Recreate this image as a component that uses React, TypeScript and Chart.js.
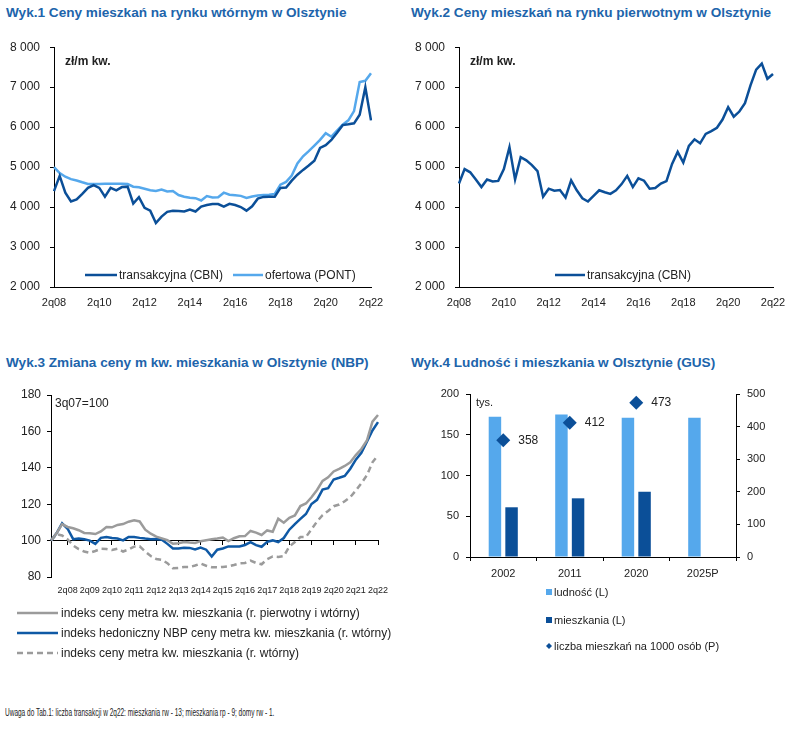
import React, { useEffect, useRef } from 'react';
import { Chart, registerables } from 'chart.js';

Chart.register(...registerables);

// ---------------- DATA ----------------
const QUARTERS_08_22 = '2q08 3q08 4q08 1q09 2q09 3q09 4q09 1q10 2q10 3q10 4q10 1q11 2q11 3q11 4q11 1q12 2q12 3q12 4q12 1q13 2q13 3q13 4q13 1q14 2q14 3q14 4q14 1q15 2q15 3q15 4q15 1q16 2q16 3q16 4q16 1q17 2q17 3q17 4q17 1q18 2q18 3q18 4q18 1q19 2q19 3q19 4q19 1q20 2q20 3q20 4q20 1q21 2q21 3q21 4q21 1q22 2q22'.split(' ');
const QUARTERS_07_22 = '3q07 4q07 1q08 2q08 3q08 4q08 1q09 2q09 3q09 4q09 1q10 2q10 3q10 4q10 1q11 2q11 3q11 4q11 1q12 2q12 3q12 4q12 1q13 2q13 3q13 4q13 1q14 2q14 3q14 4q14 1q15 2q15 3q15 4q15 1q16 2q16 3q16 4q16 1q17 2q17 3q17 4q17 1q18 2q18 3q18 4q18 1q19 2q19 3q19 4q19 1q20 2q20 3q20 4q20 1q21 2q21 3q21 4q21 1q22 2q22'.split(' ');
const TICKS_BIENNIAL = ['2q08', '2q10', '2q12', '2q14', '2q16', '2q18', '2q20', '2q22'];
const TICKS_ANNUAL = ['2q08', '2q09', '2q10', '2q11', '2q12', '2q13', '2q14', '2q15', '2q16', '2q17', '2q18', '2q19', '2q20', '2q21', '2q22'];

// Wyk.1 – rynek wtórny (zł/m kw.)
const WT_TRANSAKCYJNA = [4400, 4780, 4360, 4140, 4190, 4330, 4480, 4550, 4480, 4260, 4480, 4420, 4500, 4510, 4090, 4250, 3980, 3910, 3600, 3760, 3880, 3905, 3900, 3890, 3940, 3890, 4010, 4050, 4075, 4075, 4010, 4080, 4050, 4000, 3910, 4020, 4210, 4255, 4256, 4260, 4480, 4487, 4660, 4810, 4930, 5040, 5160, 5480, 5550, 5680, 5860, 6050, 6070, 6095, 6310, 7000, 6170];
const WT_OFERTOWA = [5000, 4850, 4760, 4700, 4665, 4620, 4580, 4575, 4575, 4586, 4586, 4586, 4586, 4575, 4510, 4495, 4460, 4420, 4405, 4440, 4390, 4400, 4300, 4260, 4235, 4223, 4165, 4275, 4240, 4245, 4360, 4310, 4295, 4280, 4230, 4265, 4290, 4300, 4310, 4330, 4560, 4630, 4790, 5090, 5270, 5400, 5540, 5680, 5850, 5760, 5910, 6060, 6170, 6400, 7130, 7160, 7350];

// Wyk.2 – rynek pierwotny (zł/m kw.)
const PIER_TRANSAKCYJNA = [4590, 4950, 4870, 4690, 4500, 4690, 4640, 4655, 4950, 5500, 4690, 5250, 5170, 5050, 4900, 4260, 4460, 4410, 4425, 4240, 4670, 4420, 4220, 4140, 4280, 4420, 4370, 4330, 4420, 4575, 4780, 4500, 4720, 4660, 4460, 4475, 4590, 4650, 5080, 5380, 5115, 5530, 5695, 5595, 5830, 5900, 5985, 6190, 6500, 6260, 6390, 6600, 7050, 7440, 7590, 7210, 7330];

// Wyk.3 – indeksy NBP (3q07=100)
const NBP_PIER_WT = [100, 104, 109, 107.5, 106.8, 105.7, 104.2, 104, 103.6, 105, 107.5, 107.3, 108.6, 109.1, 110.4, 111.1, 110.5, 106, 103.8, 102.2, 101.2, 100.2, 98.3, 98.5, 99.2, 98.9, 98.7, 99.7, 100.2, 100.7, 101.1, 101.7, 99.7, 101.3, 102.4, 102.5, 105.3, 104.4, 103.1, 105.6, 104.9, 112, 109.8, 112.5, 113.8, 119, 120.4, 123.8, 127.8, 132.8, 134.8, 138, 139.4, 141, 143, 147, 150.3, 155, 165.4, 169];
const NBP_HEDONICZNY = [100, 104, 109.5, 106.5, 100.8, 101.2, 100.7, 100, 98.2, 101.5, 102, 101.4, 101.1, 100.1, 102, 102, 101.5, 101.1, 100.8, 100.9, 100.5, 98.2, 95.7, 95.7, 96.1, 96, 95.2, 96.2, 95, 91.3, 95, 95.7, 96.8, 96.8, 96.8, 97.6, 99.1, 97.5, 96.6, 99.3, 100.1, 99.2, 101.4, 106, 109.1, 111.9, 114.6, 120.1, 122.4, 128, 128.8, 133.6, 134.5, 135.5, 139.5, 144.5, 148.2, 154.4, 160.5, 165.1];
const NBP_WTORNY = [100, 103.5, 102.8, 100.7, 97.3, 95.3, 94, 93.3, 94.3, 95.5, 95.4, 94.8, 95.5, 94, 95.1, 96.7, 96.9, 94, 91.5, 89.9, 89.4, 87.6, 84.8, 85, 85.5, 85.5, 86.3, 87.4, 86.2, 85.4, 85.3, 85.5, 85.8, 86.6, 87.5, 87.7, 89, 87.7, 87, 89.8, 91.3, 91, 91.5, 96.7, 99.2, 102, 102, 106.2, 110.5, 114, 116.3, 118.9, 119.8, 121.6, 123.9, 127.5, 131.5, 135.9, 143, 147];

// Wyk.4 – GUS
const YEARS = ['2002', '2011', '2020', '2025P'];
const LUDNOSC = [172, 175, 171, 171];
const MIESZKANIA = [61, 72, 80, null];
const NA_1000_OSOB = [358, 412, 473, null];

// ---------------- STYLE ----------------
const FONT = '"Liberation Sans", Arial, sans-serif';
const TITLE_COLOR = '#2064ab';
const DARK = '#0b4f98';
const LIGHT = '#55a8ec';
const GRAY = '#9b9b9b';
const NBP_BLUE = '#0f59a5';
const TEXT = '#222';

const fmtThousands = (v: number) => String(v).replace(/\B(?=(\d{3})+(?!\d))/g, ' ');

type LegendItem = { ds: number; x: number; y: number; kind: 'line' | 'box' | 'diamond'; w: number };

const makeLegend = (id: string, items: LegendItem[], font: string, gap: number) => ({
  id,
  afterDraw(chart: any) {
    const ctx = chart.ctx;
    items.forEach((it) => {
      const ds = chart.data.datasets[it.ds];
      ctx.save();
      if (it.kind === 'line') {
        ctx.strokeStyle = ds.borderColor;
        ctx.lineWidth = ds.borderWidth;
        ctx.setLineDash(ds.borderDash || []);
        ctx.beginPath();
        ctx.moveTo(it.x, it.y);
        ctx.lineTo(it.x + it.w, it.y);
        ctx.stroke();
      } else if (it.kind === 'box') {
        ctx.fillStyle = ds.backgroundColor;
        ctx.fillRect(it.x, it.y - it.w / 2, it.w, it.w);
      } else {
        ctx.fillStyle = ds.backgroundColor;
        const r = it.w / 2;
        ctx.beginPath();
        ctx.moveTo(it.x + r, it.y - r);
        ctx.lineTo(it.x + 2 * r, it.y);
        ctx.lineTo(it.x + r, it.y + r);
        ctx.lineTo(it.x, it.y);
        ctx.closePath();
        ctx.fill();
      }
      ctx.setLineDash([]);
      ctx.fillStyle = TEXT;
      ctx.font = font;
      ctx.textAlign = 'left';
      ctx.textBaseline = 'middle';
      ctx.fillText(ds.label, it.x + it.w + gap, it.y + 0.5);
      ctx.restore();
    });
  },
});

const makeNote = (id: string, text: string, dx: number, dy: number, font: string) => ({
  id,
  afterDraw(chart: any) {
    const { left, top } = chart.chartArea;
    const ctx = chart.ctx;
    ctx.save();
    ctx.fillStyle = TEXT;
    ctx.font = font;
    ctx.textAlign = 'left';
    ctx.textBaseline = 'middle';
    ctx.fillText(text, left + dx, top + dy);
    ctx.restore();
  },
});

const makeValueLabels = (id: string, dsIndex: number, dx: number, font: string) => ({
  id,
  afterDatasetsDraw(chart: any) {
    const meta = chart.getDatasetMeta(dsIndex);
    const data = chart.data.datasets[dsIndex].data;
    const ctx = chart.ctx;
    ctx.save();
    ctx.fillStyle = TEXT;
    ctx.font = font;
    ctx.textAlign = 'left';
    ctx.textBaseline = 'middle';
    meta.data.forEach((pt: any, i: number) => {
      const v = data[i];
      if (v == null) return;
      ctx.fillText(String(v), pt.x + dx, pt.y);
    });
    ctx.restore();
  },
});

const baseOpts = (padding: any) => ({
  responsive: false,
  animation: false as const,
  events: [] as any[],
  layout: { padding },
  plugins: { legend: { display: false }, tooltip: { enabled: false } },
});

const priceYAxis = (width: number) => ({
  min: 2000,
  max: 8000,
  ticks: { stepSize: 1000, callback: (v: any) => fmtThousands(v), padding: 10, color: TEXT, font: { family: FONT, size: 12 } },
  grid: { drawOnChartArea: false, drawTicks: true, tickLength: 4, color: '#000' },
  border: { color: '#000', width: 1 },
  afterFit: (s: any) => { s.width = width; },
});

const priceXAxis = (labels: string[]) => ({
  type: 'category' as const,
  offset: false,
  grid: { display: false },
  border: { display: true, color: '#000', width: 1 },
  ticks: {
    autoSkip: false,
    maxRotation: 0,
    padding: 1,
    color: TEXT,
    font: { family: FONT, size: 11 },
    callback: (v: any, i: number) => (TICKS_BIENNIAL.includes(labels[i]) ? labels[i] : ''),
  },
  afterFit: (s: any) => { s.height = 23; },
});

function ChartCanvas({ build, style, w, h }: { build: () => any; style: any; w: number; h: number }) {
  const ref = useRef<HTMLCanvasElement | null>(null);
  useEffect(() => {
    if (!ref.current) return;
    const chart = new Chart(ref.current, build());
    return () => chart.destroy();
  }, []);
  return <canvas ref={ref} width={w} height={h} style={{ position: 'absolute', width: w, height: h, ...style }} />;
}

const buildChart1 = () => ({
  type: 'line',
  data: {
    labels: QUARTERS_08_22,
    datasets: [
      { label: 'transakcyjna (CBN)', data: WT_TRANSAKCYJNA, borderColor: DARK, borderWidth: 2.5, pointRadius: 0, tension: 0 },
      { label: 'ofertowa (PONT)', data: WT_OFERTOWA, borderColor: LIGHT, borderWidth: 2.5, pointRadius: 0, tension: 0 },
    ],
  },
  options: {
    ...baseOpts({ top: 15, right: 24, left: 0, bottom: 0 }),
    scales: { x: priceXAxis(QUARTERS_08_22), y: priceYAxis(54) },
  },
  plugins: [
    makeLegend('lg1', [
      { ds: 0, x: 85, y: 245, kind: 'line', w: 32 },
      { ds: 1, x: 233, y: 245, kind: 'line', w: 30 },
    ], `12px ${FONT}`, 2),
    makeNote('nt1', 'zł/m kw.', 11, 14, `bold 12px ${FONT}`),
  ],
});

const buildChart2 = () => ({
  type: 'line',
  data: {
    labels: QUARTERS_08_22,
    datasets: [
      { label: 'transakcyjna (CBN)', data: PIER_TRANSAKCYJNA, borderColor: DARK, borderWidth: 2.5, pointRadius: 0, tension: 0 },
    ],
  },
  options: {
    ...baseOpts({ top: 15, right: 22, left: 0, bottom: 0 }),
    scales: { x: priceXAxis(QUARTERS_08_22), y: priceYAxis(59) },
  },
  plugins: [
    makeLegend('lg2', [{ ds: 0, x: 155, y: 245, kind: 'line', w: 30 }], `12px ${FONT}`, 2),
    makeNote('nt2', 'zł/m kw.', 11, 14, `bold 12px ${FONT}`),
  ],
});

const buildChart3 = () => ({
  type: 'line',
  data: {
    labels: QUARTERS_07_22,
    datasets: [
      { label: 'indeks ceny metra kw. mieszkania (r. pierwotny i wtórny)', data: NBP_PIER_WT, borderColor: GRAY, borderWidth: 2.5, pointRadius: 0, tension: 0 },
      { label: 'indeks hedoniczny NBP ceny metra kw. mieszkania (r. wtórny)', data: NBP_HEDONICZNY, borderColor: NBP_BLUE, borderWidth: 2.5, pointRadius: 0, tension: 0 },
      { label: 'indeks ceny metra kw. mieszkania (r. wtórny)', data: NBP_WTORNY, borderColor: GRAY, borderWidth: 2.5, borderDash: [6, 4], pointRadius: 0, tension: 0 },
    ],
  },
  options: {
    ...baseOpts({ top: 15, right: 22, left: 0, bottom: 0 }),
    scales: {
      x: {
        type: 'category',
        offset: false,
        grid: { display: false },
        border: { display: false },
        ticks: {
          autoSkip: false,
          maxRotation: 0,
          padding: 0,
          color: TEXT,
          font: { family: FONT, size: 9 },
          callback: (v: any, i: number) => (TICKS_ANNUAL.includes(QUARTERS_07_22[i]) ? QUARTERS_07_22[i] : ''),
        },
        afterFit: (s: any) => { s.height = 93; },
      },
      x2: {
        type: 'category',
        axis: 'x',
        position: { y: 100 },
        offset: false,
        grid: {
          drawOnChartArea: false,
          drawTicks: true,
          tickLength: 4,
          color: (c: any) => (TICKS_ANNUAL.includes(QUARTERS_07_22[c.index]) ? '#000' : 'rgba(0,0,0,0)'),
        },
        border: { display: true, color: '#000', width: 1 },
        ticks: { display: false },
      },
      y: {
        min: 80,
        max: 180,
        ticks: { stepSize: 20, padding: 6, color: TEXT, font: { family: FONT, size: 12 } },
        grid: { drawOnChartArea: false, drawTicks: true, tickLength: 4, color: '#000' },
        border: { color: '#000', width: 1 },
        afterFit: (s: any) => { s.width = 51; },
      },
    },
  },
  plugins: [
    makeLegend('lg3', [
      { ds: 0, x: 17, y: 233, kind: 'line', w: 41 },
      { ds: 1, x: 17, y: 253, kind: 'line', w: 41 },
      { ds: 2, x: 17, y: 273, kind: 'line', w: 41 },
    ], `12px ${FONT}`, 3),
    makeNote('nt3', '3q07=100', 4, 9, `12px ${FONT}`),
  ],
});

const buildChart4 = () => ({
  type: 'bar',
  data: {
    labels: YEARS,
    datasets: [
      { type: 'bar', label: 'ludność (L)', data: LUDNOSC, backgroundColor: LIGHT, yAxisID: 'y', categoryPercentage: 0.5, barPercentage: 0.75, order: 1 },
      { type: 'bar', label: 'mieszkania (L)', data: MIESZKANIA, backgroundColor: DARK, yAxisID: 'y', categoryPercentage: 0.5, barPercentage: 0.75, order: 1 },
      { type: 'line', label: 'liczba mieszkań na 1000 osób (P)', data: NA_1000_OSOB, yAxisID: 'y2', showLine: false, pointStyle: 'rectRot', pointRadius: 7, backgroundColor: DARK, borderColor: DARK, borderWidth: 0, order: 0 },
    ],
  },
  options: {
    ...baseOpts({ top: 14, right: 0, left: 0, bottom: 0 }),
    scales: {
      x: {
        grid: { offset: true, drawOnChartArea: false, drawTicks: true, tickLength: 4, color: '#000' },
        border: { color: '#000', width: 1 },
        ticks: { padding: 6, color: TEXT, font: { family: FONT, size: 11 } },
        afterFit: (s: any) => { s.height = 113; },
      },
      y: {
        position: 'left',
        min: 0,
        max: 200,
        ticks: { stepSize: 50, padding: 7, color: TEXT, font: { family: FONT, size: 11 } },
        grid: { drawOnChartArea: false, drawTicks: true, tickLength: 4, color: '#000' },
        border: { color: '#000', width: 1 },
        afterFit: (s: any) => { s.width = 70; },
      },
      y2: {
        position: 'right',
        min: 0,
        max: 500,
        ticks: { stepSize: 100, padding: 7, color: TEXT, font: { family: FONT, size: 11 } },
        grid: { drawOnChartArea: false, drawTicks: true, tickLength: 4, color: '#000' },
        border: { color: '#000', width: 1 },
        afterFit: (s: any) => { s.width = 59; },
      },
    },
  },
  plugins: [
    makeLegend('lg4', [
      { ds: 0, x: 146, y: 212, kind: 'box', w: 6 },
      { ds: 1, x: 146, y: 240, kind: 'box', w: 6 },
      { ds: 2, x: 146, y: 266, kind: 'diamond', w: 6 },
    ], `11px ${FONT}`, 2),
    makeNote('nt4', 'tys.', 6, 9, `11px ${FONT}`),
    makeValueLabels('vl4', 2, 15, `12px ${FONT}`),
  ],
});

const titleStyle = (left: number, top: number): React.CSSProperties => ({
  position: 'absolute',
  left,
  top,
  fontFamily: FONT,
  fontWeight: 'bold',
  fontSize: 13.6,
  lineHeight: '18px',
  color: TITLE_COLOR,
  whiteSpace: 'nowrap',
});

export default function App() {
  return (
    <div style={{ position: 'absolute', left: 0, top: 0, width: 795, height: 731, background: '#fff', overflow: 'hidden' }}>
      <div style={titleStyle(6, 4)}>Wyk.1 Ceny mieszkań na rynku wtórnym w Olsztynie</div>
      <div style={titleStyle(411, 4)}>Wyk.2 Ceny mieszkań na rynku pierwotnym w Olsztynie</div>
      <div style={titleStyle(6, 354)}>Wyk.3 Zmiana ceny m kw. mieszkania w Olsztynie (NBP)</div>
      <div style={titleStyle(411, 354)}>Wyk.4 Ludność i mieszkania w Olsztynie (GUS)</div>
      <ChartCanvas build={buildChart1} w={395} h={280} style={{ left: 0, top: 30 }} />
      <ChartCanvas build={buildChart2} w={395} h={280} style={{ left: 400, top: 30 }} />
      <ChartCanvas build={buildChart3} w={400} h={290} style={{ left: 0, top: 380 }} />
      <ChartCanvas build={buildChart4} w={395} h={290} style={{ left: 400, top: 380 }} />
      <div style={{ position: 'absolute', left: 5, top: 707, fontFamily: FONT, fontSize: 10, lineHeight: '12px', color: TEXT, whiteSpace: 'nowrap', transform: 'scaleX(0.65)', transformOrigin: 'left center' }}>
        Uwaga do Tab.1: liczba transakcji w 2q22: mieszkania rw - 13; mieszkania rp - 9; domy rw - 1.
      </div>
    </div>
  );
}
